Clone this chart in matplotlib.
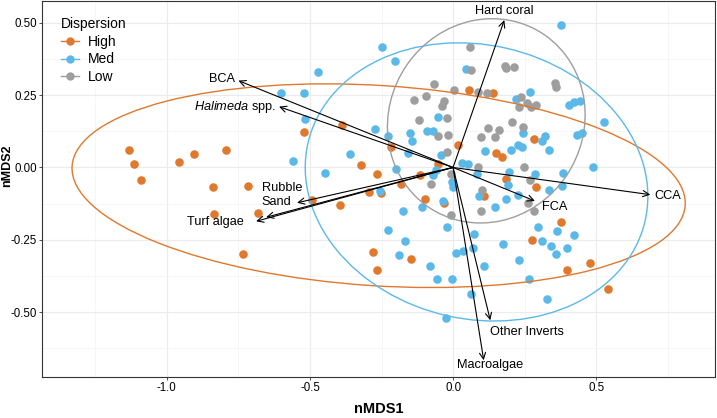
import matplotlib
matplotlib.use("Agg")
import matplotlib.pyplot as plt
from matplotlib.patches import Ellipse
from matplotlib.lines import Line2D
import numpy as np

plt.rcParams['font.family'] = ['Liberation Sans', 'DejaVu Sans']
plt.rcParams['mathtext.fontset'] = 'custom'
plt.rcParams['mathtext.it'] = 'Liberation Sans:italic'
plt.rcParams['mathtext.rm'] = 'Liberation Sans'

# nMDS scores per dispersion group
high_x = [-1.133, -1.113, -1.089, -0.956, -0.904, -0.793, -0.840, -0.715, -0.836, -0.682,
          -0.735, -0.521, -0.389, -0.493, -0.394, -0.320, -0.293, -0.253, -0.181, -0.265,
          -0.216, -0.114, -0.097, -0.031, -0.054, 0.016, 0.057, 0.138, 0.151, 0.170,
          0.186, 0.107, 0.283, 0.289, 0.378, 0.276, 0.480, 0.399, 0.540, -0.281,
          -0.148, -0.265]
high_y = [0.062, 0.013, -0.042, 0.018, 0.047, 0.060, -0.068, -0.063, -0.160, -0.156,
          -0.298, 0.122, 0.148, -0.114, -0.131, 0.010, -0.085, -0.088, -0.056, -0.022,
          0.072, -0.025, -0.108, -0.124, 0.012, 0.079, 0.269, 0.256, 0.050, 0.036,
          -0.039, -0.097, 0.100, -0.066, -0.189, -0.250, -0.329, -0.353, -0.419, -0.292,
          -0.315, -0.355]

med_x = [0.378, -0.247, -0.202, -0.473, 0.044, -0.602, -0.520, 0.268, 0.221, 0.404,
         0.422, 0.442, 0.528, -0.516, -0.052, -0.272, -0.226, -0.152, -0.144, -0.090,
         -0.071, 0.243, 0.320, 0.310, 0.434, 0.450, 0.228, 0.240, 0.336, 0.113,
         0.202, -0.360, -0.158, -0.043, -0.558, -0.449, 0.032, 0.053, -0.199, -0.060,
         -0.070, 0.083, 0.194, 0.287, 0.385, 0.488, -0.005, 0.001, 0.191, 0.382,
         0.336, -0.257, 0.090, 0.185, 0.228, -0.035, -0.108, 0.147, -0.174, -0.227,
         -0.020, 0.073, 0.297, 0.364, 0.424, -0.168, 0.175, 0.312, 0.341, 0.399,
         0.358, 0.010, 0.033, 0.070, -0.189, 0.230, -0.080, 0.107, 0.265, -0.055,
         -0.005, 0.063, 0.329, -0.025]
med_y = [0.492, 0.417, 0.369, 0.329, 0.340, 0.256, 0.256, 0.261, 0.238, 0.217,
         0.225, 0.230, 0.158, 0.168, 0.176, 0.133, 0.107, 0.118, 0.093, 0.125,
         0.125, 0.119, 0.110, 0.090, 0.112, 0.118, 0.079, 0.071, 0.061, 0.056,
         0.061, 0.045, 0.051, 0.042, 0.024, -0.020, 0.016, 0.011, -0.004, -0.008,
         -0.026, -0.023, -0.014, -0.023, -0.019, 0.001, -0.051, -0.066, -0.059, -0.063,
         -0.078, -0.082, -0.100, -0.108, -0.094, -0.117, -0.136, -0.137, -0.151, -0.215,
         -0.206, -0.229, -0.206, -0.220, -0.232, -0.254, -0.263, -0.253, -0.272, -0.277,
         -0.300, -0.297, -0.289, -0.279, -0.301, -0.321, -0.341, -0.341, -0.387, -0.386,
         -0.384, -0.436, -0.456, -0.520]

low_x = [0.060, 0.180, 0.184, 0.212, 0.064, 0.357, 0.361, -0.068, 0.002, 0.086,
         0.119, -0.095, -0.136, -0.031, -0.040, 0.231, 0.237, 0.257, 0.272, 0.289,
         -0.120, -0.022, 0.206, 0.246, 0.121, 0.162, -0.051, -0.017, 0.096, 0.146,
         -0.022, 0.088, -0.007, 0.249, -0.078, 0.270, 0.101, 0.261, 0.284, 0.096,
         -0.008]
low_y = [0.417, 0.351, 0.342, 0.346, 0.337, 0.291, 0.279, 0.290, 0.266, 0.260,
         0.257, 0.246, 0.232, 0.229, 0.211, 0.210, 0.245, 0.222, 0.210, 0.216,
         0.163, 0.171, 0.156, 0.140, 0.135, 0.128, 0.110, 0.113, 0.105, 0.105,
         0.055, 0.001, -0.022, 0.003, -0.056, -0.042, -0.079, -0.123, -0.151, -0.152,
         -0.164]

groups = ["High", "Med", "Low"]
colors = ["#E0782D", "#5BB9EA", "#9E9E9E"]

# ellipse: centre x, centre y, width, height, angle
ell_cx = [-0.26, 0.082, 0.116]
ell_cy = [-0.063, -0.05, 0.161]
ell_w = [2.146, 1.208, 0.72]
ell_h = [0.692, 0.947, 0.676]
ell_ang = [-3.6, -12.6, 55]

# environmental vectors
vec_names = ["Hard coral", "BCA", "$\\it{Halimeda}$ spp.", "Rubble", "Sand", "Turf algae",
             "CCA", "FCA", "Other Inverts", "Macroalgae"]
vec_x = [0.179, -0.75, -0.608, -0.653, -0.545, -0.688, 0.689, 0.286, 0.13, 0.107]
vec_y = [0.509, 0.30, 0.21, -0.172, -0.122, -0.186, -0.094, -0.116, -0.528, -0.666]
lab_x = [0.178, -0.808, -0.763, -0.598, -0.618, -0.829, 0.749, 0.354, 0.257, 0.131]
lab_y = [0.541, 0.307, 0.21, -0.072, -0.121, -0.19, -0.10, -0.138, -0.569, -0.683]

fig = plt.figure(figsize=(7.17, 4.18), dpi=100)
ax = fig.add_axes([42 / 717, 0.098, 673 / 717, 0.9003])

xs = [high_x, med_x, low_x]
ys = [high_y, med_y, low_y]
for i in range(3):
    ax.scatter(xs[i], ys[i], s=38, color=colors[i], linewidths=0, zorder=2)
    ax.add_patch(Ellipse((ell_cx[i], ell_cy[i]), ell_w[i], ell_h[i], angle=ell_ang[i],
                         fill=False, edgecolor=colors[i], lw=1.0, zorder=3))

for i in range(len(vec_names)):
    ax.annotate("", xy=(vec_x[i], vec_y[i]), xytext=(0, 0),
                arrowprops=dict(arrowstyle="->,head_length=0.45,head_width=0.22",
                                color="black", lw=0.8, shrinkA=0, shrinkB=0,
                                mutation_scale=10), zorder=4)
    ax.text(lab_x[i], lab_y[i], vec_names[i], ha="center", va="center",
            fontsize=9.2, color="black", zorder=5)

ax.set_xlim(-1.436, 0.915)
ax.set_ylim(-0.724, 0.576)
ax.set_xticks([-1.0, -0.5, 0.0, 0.5])
ax.set_xticklabels(["-1.0", "-0.5", "0.0", "0.5"])
ax.set_yticks([-0.5, -0.25, 0.0, 0.25, 0.5])
ax.set_yticklabels(["-0.50", "-0.25", "0.00", "0.25", "0.50"])
ax.set_xticks([-1.25, -0.75, -0.25, 0.25, 0.75], minor=True)
ax.set_yticks([-0.625, -0.375, -0.125, 0.125, 0.375], minor=True)
ax.grid(which="major", color="#EBEBEB", lw=0.8, zorder=0)
ax.grid(which="minor", color="#F3F3F3", lw=0.5, zorder=0)
ax.set_axisbelow(True)
ax.tick_params(which="major", length=2, width=0.6, color="#333333",
               labelsize=8.3, labelcolor="black", pad=1.5)
ax.tick_params(which="minor", length=0)
for sp in ax.spines.values():
    sp.set_color("#333333")
    sp.set_linewidth(0.8)

ax.set_xlabel("nMDS1", fontsize=10.5, fontweight="bold", labelpad=6)
fig.text(7.0 / 717, 1 - 166 / 418, "nMDS2", rotation=90, ha="center", va="center",
         fontsize=9, fontweight="bold")

handles = [Line2D([0], [0], color=c, lw=1.0, marker="o", markersize=6,
                  markeredgewidth=0) for c in colors]
leg = ax.legend(handles, groups, title="Dispersion", loc="upper left",
                bbox_to_anchor=(0.012, 0.985), frameon=False, fontsize=10,
                title_fontsize=10, handlelength=1.3, handletextpad=0.6,
                labelspacing=0.25, alignment="left", borderpad=0.3)

fig.savefig("out.png", dpi=100)
